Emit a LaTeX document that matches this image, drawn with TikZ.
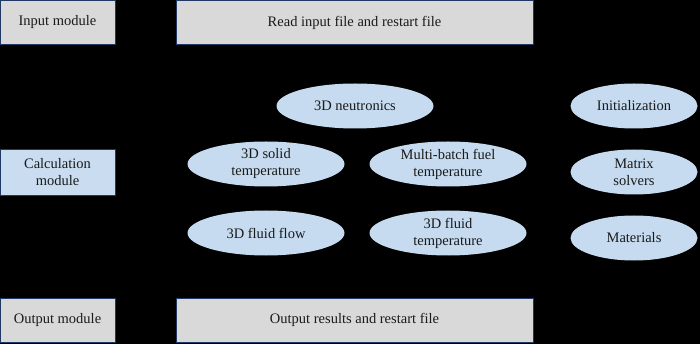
\documentclass[tikz,border=0pt]{standalone}
\usepackage{fontspec}
\setmainfont{Liberation Serif}
\usetikzlibrary{shapes.geometric}
\definecolor{boxgray}{HTML}{D9D9D9}
\definecolor{calcblue}{HTML}{C9DCF0}
\definecolor{ellblue}{HTML}{C6DBEF}
\definecolor{edgeblue}{HTML}{1F3864}
\definecolor{txt}{HTML}{1A1A1A}
\begin{document}
\begin{tikzpicture}[x=1pt,y=-1pt,
  modbox/.style={draw=edgeblue,line width=0.8pt,fill=boxgray,minimum width=115pt,minimum height=44pt,inner sep=0pt,align=center,text=txt,font=\fontsize{14.5}{17}\selectfont},
  widebox/.style={modbox,minimum width=357pt},
  ell/.style={ellipse,fill=ellblue,draw=none,minimum width=157pt,minimum height=45pt,inner sep=0pt,align=center,text=txt,font=\fontsize{14.5}{17}\selectfont},
  smallell/.style={ell,minimum width=127pt}]
\fill[black] (0,0) rectangle (700,344);
\useasboundingbox (0,0) rectangle (700,344);
\node[modbox] (inmod) at (57.5,22.5) {Input module};
\node[widebox] (read) at (354.5,22.5) {Read input file and restart file};
\node[modbox,fill=calcblue,minimum height=46pt] (calc) at (57.5,172) {Calculation\\module};
\node[modbox] (outmod) at (57.5,320) {Output module};
\node[widebox] (outres) at (354.5,320) {Output results and restart file};
\node[ell] (neut) at (355,106) {3D neutronics};
\node[ell] (solid) at (266,164) {3D solid\\temperature};
\node[ell] (multi) at (448,164) {Multi-batch fuel\\temperature};
\node[ell] (flow) at (266,233) {3D fluid flow};
\node[ell] (fluidt) at (448,233) {3D fluid\\temperature};
\node[smallell] (init) at (634,106) {Initialization};
\node[smallell] (matrix) at (634,172) {Matrix\\solvers};
\node[smallell] (mat) at (634,238) {Materials};
\end{tikzpicture}
\end{document}
